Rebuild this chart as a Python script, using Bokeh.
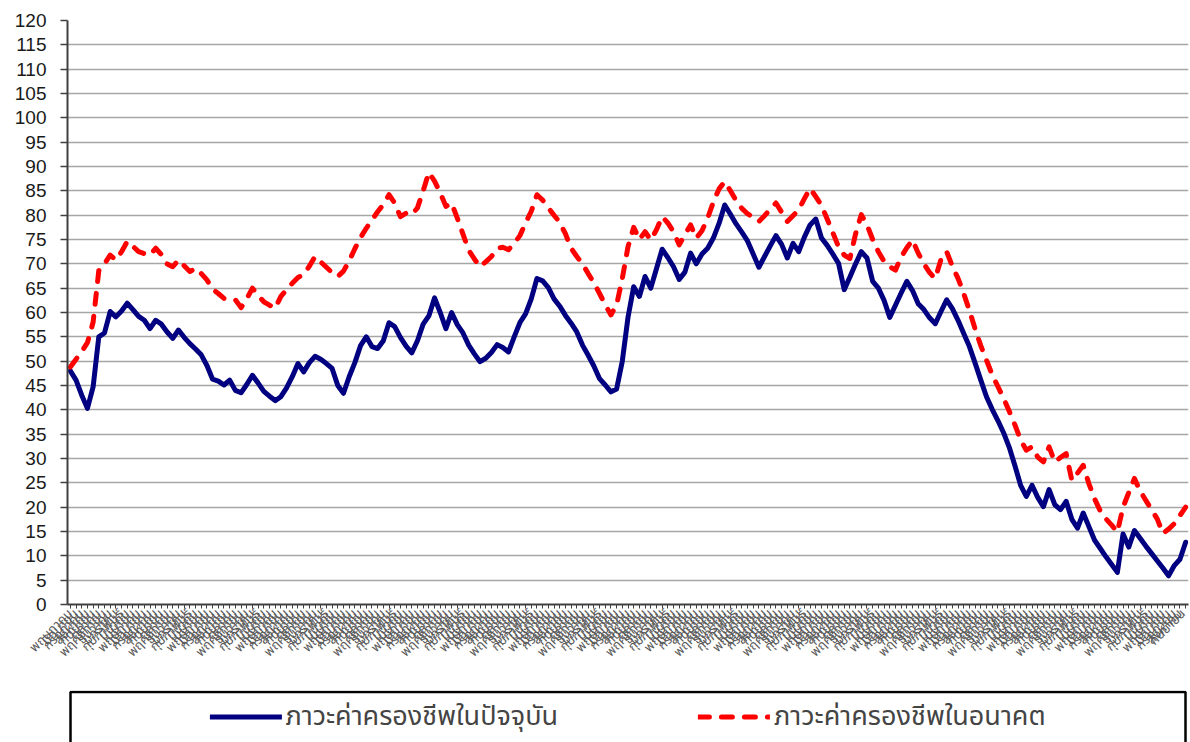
import math
from bokeh.plotting import figure
from bokeh.models import FixedTicker, Range1d, Legend, LegendItem
from bokeh.layouts import column
from bokeh.embed import file_html
from bokeh.resources import INLINE

months = ["มกราคม", "กุมภาพันธ์", "มีนาคม", "เมษายน", "พฤษภาคม", "มิถุนายน",
          "กรกฎาคม", "สิงหาคม", "กันยายน", "ตุลาคม", "พฤศจิกายน", "ธันวาคม"]
start_month = 4  # first category is พฤษภาคม

series_names = ["ภาวะค่าครองชีพในปัจจุบัน", "ภาวะค่าครองชีพในอนาคต"]

current = [
    48.0, 46.1, 43.0, 40.3, 44.7, 55.0, 55.8, 60.2, 59.1, 60.3,
    61.9, 60.6, 59.2, 58.4, 56.7, 58.4, 57.6, 56.0, 54.7, 56.4,
    54.9, 53.6, 52.5, 51.3, 49.1, 46.3, 45.9, 45.1, 46.1, 44.0,
    43.5, 45.2, 47.1, 45.5, 43.8, 42.8, 41.9, 42.7, 44.5, 46.8,
    49.5, 47.8, 49.7, 51.0, 50.4, 49.5, 48.5, 45.0, 43.4, 46.8,
    49.7, 53.2, 55.0, 53.0, 52.6, 54.2, 57.9, 57.1, 54.9, 53.1,
    51.7, 54.2, 57.6, 59.3, 63.0, 60.0, 56.7, 60.0, 57.5, 55.8,
    53.3, 51.5, 49.9, 50.6, 51.8, 53.4, 52.8, 51.9, 55.0, 57.9,
    59.7, 62.8, 67.0, 66.5, 65.1, 62.8, 61.3, 59.4, 57.8, 56.0,
    53.3, 51.2, 49.0, 46.4, 45.1, 43.7, 44.3, 50.0, 59.0, 65.3,
    63.3, 67.4, 65.0, 69.0, 73.0, 71.3, 69.4, 66.8, 68.3, 72.2,
    70.0, 72.0, 73.2, 75.3, 78.3, 82.1, 80.2, 78.2, 76.5, 74.7,
    72.0, 69.3, 71.5, 73.7, 75.8, 74.0, 71.2, 74.2, 72.5, 75.5,
    78.0, 79.2, 75.3, 73.8, 72.0, 70.1, 64.7, 67.3, 70.0, 72.5,
    71.2, 66.4, 65.0, 62.5, 59.0, 61.5, 64.0, 66.4, 64.5, 61.8,
    60.6, 58.9, 57.7, 60.2, 62.6, 60.8, 58.4, 55.7, 53.0, 49.6,
    46.1, 42.7, 40.1, 37.8, 35.3, 32.3, 28.5, 24.5, 22.2, 24.5,
    22.0, 20.1, 23.6, 20.5, 19.5, 21.2, 17.5, 15.7, 18.8, 16.0,
    13.2, 11.5, 9.8, 8.2, 6.6, 14.5, 11.8, 15.2, 13.6, 12.0,
    10.5, 9.0, 7.5, 5.9, 8.0, 9.3, 12.8,
]

future = [
    48.8, 50.4, 52.0, 53.8, 58.0, 68.6, 70.0, 71.8, 70.8, 72.5,
    74.6, 73.6, 72.5, 72.1, 71.8, 73.2, 71.9, 70.0, 69.4, 70.8,
    69.6, 68.4, 69.1, 68.0, 66.7, 64.8, 63.9, 62.9, 62.8, 62.6,
    61.0, 62.8, 65.0, 63.5, 62.2, 61.5, 60.9, 63.3, 64.7, 66.0,
    67.2, 67.8, 69.5, 71.5, 70.4, 69.3, 68.2, 67.4, 68.5, 70.6,
    73.1, 75.4, 77.3, 79.0, 80.7, 82.2, 84.2, 82.5, 79.7, 80.4,
    80.1, 81.5, 85.0, 88.8, 87.0, 84.6, 81.8, 82.5, 79.4, 76.1,
    72.8, 71.0, 69.4, 70.4, 71.5, 73.2, 73.4, 72.9, 74.2, 75.8,
    78.4, 80.8, 84.2, 83.1, 81.5, 80.0, 78.5, 76.2, 73.2, 71.5,
    70.0, 68.0, 66.1, 63.9, 61.6, 59.5, 61.6, 67.0, 73.5, 77.5,
    75.0, 76.6, 74.9, 77.0, 79.7, 78.4, 76.6, 73.9, 76.0, 78.0,
    75.3, 76.8, 79.4, 82.7, 85.4, 86.9, 85.0, 83.0, 81.4, 80.3,
    79.6, 78.7, 79.9, 81.2, 82.5, 80.6, 78.7, 79.9, 81.1, 83.4,
    85.5, 83.8, 82.0, 79.2, 76.4, 73.5, 71.8, 71.1, 76.2, 80.1,
    78.0, 75.0, 72.5, 70.5, 69.4, 68.7, 71.4, 73.3, 74.9, 72.2,
    70.0, 68.2, 67.0, 70.9, 72.5, 69.5, 67.0, 63.9, 60.4, 56.6,
    53.2, 50.2, 47.2, 44.8, 42.4, 39.7, 36.9, 33.8, 31.7, 32.4,
    30.3, 29.3, 32.4, 29.3, 30.2, 31.0, 25.5, 27.0, 28.6, 24.8,
    21.7, 19.2, 17.6, 16.3, 14.9, 20.0, 23.0, 25.9, 23.3, 21.4,
    19.5, 17.6, 14.6, 15.5, 16.6, 18.3, 20.0,
]

n = min(len(current), len(future))
current = current[:n]
future = future[:n]
xs = list(range(n))
tick_labels = [months[(start_month + i) % 12] for i in range(n)]
y_ticks = list(range(0, 121, 5))

THAI = "Noto Sans Thai, Tlwg Typist, Loma, Garuda, Noto Sans, DejaVu Sans, sans-serif"

W = 1190
BL, BR = 67, 2
p = figure(width=W, height=690, output_backend="svg", toolbar_location=None,
           x_range=Range1d(-0.5, n - 0.5), y_range=Range1d(0, 120),
           min_border_left=BL, min_border_right=BR, min_border_top=20,
           min_border_bottom=86)
p.outline_line_color = None
p.background_fill_color = "white"

p.line(xs, current, line_color="#000080", line_width=5, line_join="round", line_cap="round")
p.line(xs, future, line_color="#FF0000", line_width=5, line_dash="11 12",
       line_join="round", line_cap="round")

# y axis
p.yaxis.ticker = FixedTicker(ticks=y_ticks)
p.yaxis.minor_tick_line_color = None
p.yaxis.axis_line_color = "#404040"
p.yaxis.axis_line_width = 2
p.yaxis.major_tick_line_color = "#404040"
p.yaxis.major_tick_line_width = 1.5
p.yaxis.major_tick_out = 7
p.yaxis.major_tick_in = 0
p.yaxis.major_label_standoff = 14
p.yaxis.major_label_text_font = "Liberation Sans"
p.yaxis.major_label_text_font_size = "19px"
p.yaxis.major_label_text_color = "#1a1a1a"
p.ygrid.ticker = FixedTicker(ticks=y_ticks)
p.ygrid.grid_line_color = "#a6a6a6"
p.ygrid.grid_line_width = 1.5

# x axis
p.xaxis.ticker = FixedTicker(ticks=xs)
p.xaxis.major_label_overrides = {i: lab for i, lab in enumerate(tick_labels)}
p.xaxis.major_label_orientation = math.pi / 4
p.xaxis.major_label_text_font = THAI
p.xaxis.major_label_text_font_size = "13px"
p.xaxis.major_label_text_color = "#5a5a5a"
p.xaxis.major_label_standoff = 3
p.xaxis.minor_tick_line_color = None
p.xaxis.axis_line_color = "#404040"
p.xaxis.axis_line_width = 2
p.xaxis.major_tick_line_color = "#404040"
p.xaxis.major_tick_out = 4
p.xaxis.major_tick_in = 0
p.xgrid.grid_line_color = None

# legend strip below the chart, box open at the bottom (cut by the page edge)
LH = 52
lf = figure(width=W, height=LH, output_backend="svg", toolbar_location=None,
            x_range=Range1d(BL, W - BR), y_range=Range1d(0, LH),
            x_axis_location=None, y_axis_location=None,
            min_border_left=BL, min_border_right=BR, min_border_top=0,
            min_border_bottom=0)
lf.grid.visible = False
lf.outline_line_color = None
lf.quad(left=[70], right=[1185], bottom=[-10], top=[LH - 1.5],
        fill_color=None, line_color="black", line_width=2.5)
r1 = lf.line([-50, -40], [-50, -40], line_color="#000080", line_width=5, line_cap="round")
r2 = lf.line([-50, -40], [-50, -40], line_color="#FF0000", line_width=5,
             line_dash="11 12", line_cap="round")
legend = Legend(items=[LegendItem(label=series_names[0], renderers=[r1]),
                       LegendItem(label=series_names[1], renderers=[r2])],
                orientation="horizontal", location="center",
                border_line_color=None, background_fill_alpha=0,
                glyph_width=72, label_standoff=4, spacing=140,
                label_text_font=THAI, label_text_font_size="27px",
                padding=0, margin=0)
lf.add_layout(legend)

layout = column(p, lf)
open("out.html", "w").write(file_html(layout, INLINE))
